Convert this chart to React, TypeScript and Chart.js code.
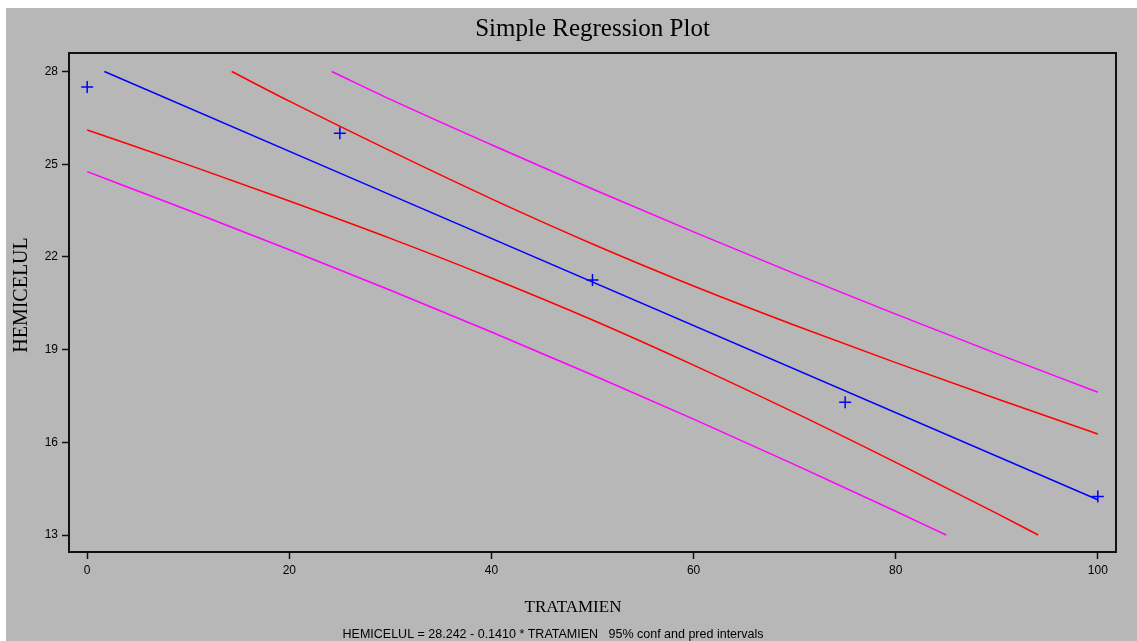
import React, { useEffect, useRef } from 'react';
import { Chart, registerables } from 'chart.js';

Chart.register(...registerables);

// Observed data (TRATAMIEN, HEMICELUL)
const obsX = [0, 25, 50, 75, 100];
const obsY = [27.5, 26.0, 21.25, 17.3, 14.25];

// Fitted regression line (clipped to the axis range, as drawn)
const fitX = [1.7, 100];
const fitY = [28, 14.14];

// 95% confidence band
const upperConfX = [14.3, 20, 30, 40, 50, 60, 70, 80, 90, 100];
const upperConfY = [28, 27.04, 25.43, 23.88, 22.42, 21.06, 19.79, 18.58, 17.41, 16.27];
const lowerConfX = [0, 10, 20, 30, 40, 50, 60, 70, 80, 90, 94.1];
const lowerConfY = [26.11, 24.98, 23.81, 22.6, 21.32, 19.96, 18.5, 16.96, 15.35, 13.7, 13];

// 95% prediction band
const upperPredX = [24.2, 30, 40, 50, 60, 70, 80, 90, 100];
const upperPredY = [28, 27.1, 25.63, 24.2, 22.81, 21.46, 20.15, 18.87, 17.62];
const lowerPredX = [0, 10, 20, 30, 40, 50, 60, 70, 80, 85];
const lowerPredY = [24.76, 23.51, 22.23, 20.92, 19.57, 18.18, 16.75, 15.28, 13.77, 13];

const xTicks = [0, 20, 40, 60, 80, 100];
const yTicks = [13, 16, 19, 22, 25, 28];

const titleText = 'Simple Regression Plot';
const xTitle = 'TRATAMIEN';
const yTitle = 'HEMICELUL';
const footnote = 'HEMICELUL = 28.242 - 0.1410 * TRATAMIEN   95% conf and pred intervals';

const SERIF = '"Liberation Serif", "Times New Roman", serif';
const SANS = '"Liberation Sans", Arial, sans-serif';

const pts = (xs: number[], ys: number[]) => xs.map((x, i) => ({ x, y: ys[i] }));

const lineDs = (label: string, xs: number[], ys: number[], color: string) => ({
  label,
  data: pts(xs, ys),
  showLine: true,
  borderColor: color,
  backgroundColor: color,
  borderWidth: 1.5,
  pointRadius: 0,
  cubicInterpolationMode: 'monotone' as const,
  fill: false,
});

// Frame around the plot area plus the title, axis titles and footnote texts
const decorations = {
  id: 'decorations',
  afterDraw(chart: any) {
    const { ctx, chartArea } = chart;
    ctx.save();
    ctx.strokeStyle = '#111';
    ctx.lineWidth = 2;
    ctx.strokeRect(chartArea.left, chartArea.top, chartArea.right - chartArea.left, chartArea.bottom - chartArea.top);

    ctx.fillStyle = '#000';
    ctx.textAlign = 'center';
    ctx.textBaseline = 'alphabetic';

    ctx.font = `25px ${SERIF}`;
    ctx.fillText(titleText, (chartArea.left + chartArea.right) / 2, 28);

    ctx.font = `17px ${SERIF}`;
    ctx.fillText(xTitle, 567, 604);

    ctx.font = `12.5px ${SANS}`;
    ctx.fillText(footnote, 547, 630);

    ctx.translate(21, 287);
    ctx.rotate(-Math.PI / 2);
    ctx.font = `20px ${SERIF}`;
    ctx.fillText(yTitle, 0, 0);
    ctx.restore();
  },
};

export default function App() {
  const ref = useRef<HTMLCanvasElement>(null);
  useEffect(() => {
    if (!ref.current) return;
    const chart = new Chart(ref.current, {
      type: 'scatter',
      data: {
        datasets: [
          lineDs('Upper pred', upperPredX, upperPredY, '#ff00ff'),
          lineDs('Lower pred', lowerPredX, lowerPredY, '#ff00ff'),
          lineDs('Upper conf', upperConfX, upperConfY, '#ff0000'),
          lineDs('Lower conf', lowerConfX, lowerConfY, '#ff0000'),
          lineDs('Fit', fitX, fitY, '#0000ff'),
          {
            label: yTitle,
            data: pts(obsX, obsY),
            showLine: false,
            pointStyle: 'cross',
            pointRadius: 6,
            borderWidth: 1.5,
            borderColor: '#0000ff',
            backgroundColor: '#0000ff',
          } as any,
        ],
      },
      options: {
        animation: false,
        responsive: false,
        layout: { padding: { left: 0, right: 21, top: 45, bottom: 59 } },
        plugins: {
          legend: { display: false },
          tooltip: { enabled: false },
          title: { display: false },
        },
        scales: {
          x: {
            type: 'linear',
            min: -1.8,
            max: 101.8,
            border: { display: false },
            grid: { drawOnChartArea: false, drawTicks: true, tickLength: 7, tickColor: '#111', tickWidth: 1.5 },
            ticks: { color: '#000', font: { family: SANS, size: 12 }, padding: 4, maxRotation: 0 },
            afterBuildTicks: (s: any) => { s.ticks = xTicks.map((v) => ({ value: v })); },
            afterFit: (s: any) => { s.height = 30; },
            title: { display: false },
          },
          y: {
            type: 'linear',
            min: 12.45,
            max: 28.6,
            border: { display: false },
            grid: { drawOnChartArea: false, drawTicks: true, tickLength: 7, tickColor: '#111', tickWidth: 1.5 },
            ticks: { color: '#000', font: { family: SANS, size: 12 }, padding: 4 },
            afterBuildTicks: (s: any) => { s.ticks = yTicks.map((v) => ({ value: v })); },
            afterFit: (s: any) => { s.width = 63; },
            title: { display: false },
          },
        },
      },
      plugins: [decorations],
    } as any);
    return () => chart.destroy();
  }, []);

  return (
    <div style={{ position: 'fixed', left: 6, top: 8, width: 1131, height: 633, background: '#b7b7b7', overflow: 'hidden' }}>
      <canvas ref={ref} width={1131} height={633} style={{ display: 'block' }} />
    </div>
  );
}
